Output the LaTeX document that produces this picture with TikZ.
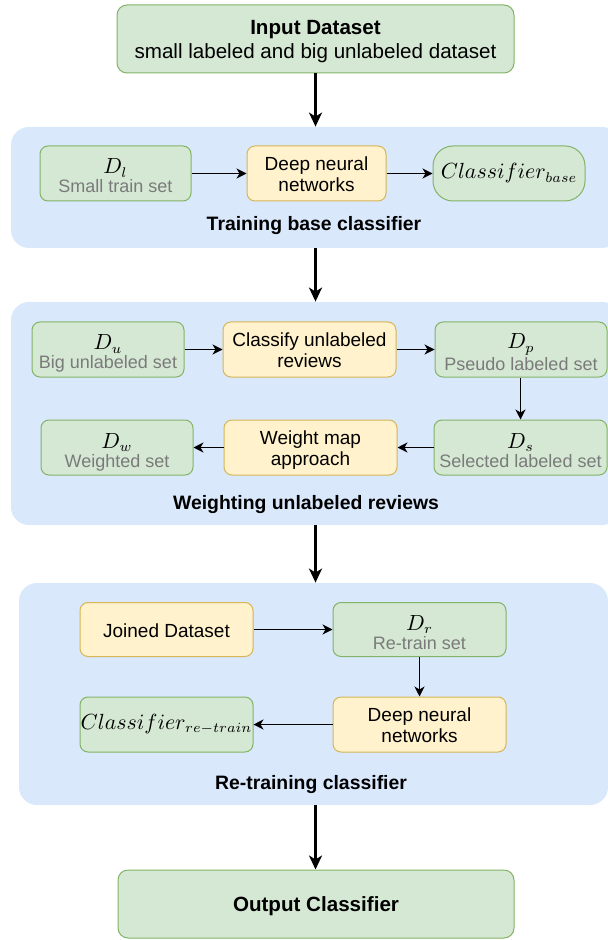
\documentclass[tikz,border=0pt]{standalone}
\usepackage{fontspec}
\setmainfont{Liberation Sans}
\usetikzlibrary{arrows.meta}
\definecolor{gfill}{HTML}{D5E8D4}
\definecolor{gline}{HTML}{82B366}
\definecolor{yfill}{HTML}{FFF2CC}
\definecolor{yline}{HTML}{D6B656}
\definecolor{pfill}{HTML}{DAE8FC}
\definecolor{subgray}{HTML}{7A7A7A}
\newcommand{\mth}[1]{{\fontsize{10.5}{11.5}\selectfont$#1$}}
\newcommand{\sub}[1]{{\color{subgray}#1}}
\newcommand{\ta}{\rule{0pt}{9.5pt}}
\newcommand{\tb}{\rule[-2pt]{0pt}{2pt}}
\newcommand{\tm}{\rule{0pt}{12pt}}
\tikzset{
  every node/.style={font=\fontsize{9.5}{10.5}\selectfont},
  gbox/.style={draw=gline, fill=gfill, rounded corners=4pt, line width=0.5pt, inner sep=0pt, align=center},
  dbox/.style={gbox, font=\fontsize{9}{9.5}\selectfont},
  ybox/.style={draw=yline, fill=yfill, rounded corners=4pt, line width=0.5pt, inner sep=0pt, align=center},
  endbox/.style={gbox, rounded corners=5pt, font=\fontsize{10.3}{12}\selectfont},
  panel/.style={fill=pfill, draw=none, rounded corners=9pt, inner sep=0pt},
  ptitle/.style={font=\bfseries\fontsize{9.7}{11.5}\selectfont},
  flowarrow/.style={-{Stealth[length=5pt,width=5pt,inset=1.5pt]}, line width=0.6pt},
  bigarrow/.style={-{Stealth[length=7pt,width=6.5pt,inset=2pt]}, line width=1.2pt},
  sz/.style 2 args={minimum width=#1*0.5pt, minimum height=#2*0.5pt},
}
\begin{document}
\begin{tikzpicture}[x=0.5pt,y=-0.5pt]
\useasboundingbox (0,0) rectangle (608,940);
\begin{scope}
\clip (0,0) rectangle (608,940);
\node[panel, sz={609}{121}] (p1) at (315.5,187.5) {};
\node[panel, sz={609}{223}] (p2) at (315.5,413.5) {};
\node[panel, sz={589}{222}] (p3) at (313.5,694) {};
\end{scope}

% top / bottom
\node[endbox, sz={397}{68}] (in) at (315.5,39) {\ta\textbf{Input Dataset}\\small labeled and big unlabeled dataset\tb};
\node[endbox, sz={396}{68}] (out) at (316,904) {\ta\textbf{Output Classifier}\tb};

% panel 1
\node[dbox, sz={151}{55}] (Dl) at (115.5,173.5) {\tm\mth{D_l}\\\sub{Small train set}\tb};
\node[ybox, sz={139}{55}] (dnn1) at (316.5,173.5) {\ta Deep neural\\networks\tb};
\node[gbox, sz={152}{55}, rounded corners=10pt] (cb) at (509,173.5) {\mth{Classifier_{base}}};
\node[ptitle] (t1) at (314,226) {Training base classifier};

% panel 2
\node[dbox, sz={152}{55}] (Du) at (108,349.5) {\tm\mth{D_u}\\\sub{Big unlabeled set}\tb};
\node[ybox, sz={173}{55}] (cu) at (309.5,349.5) {\ta Classify unlabeled\\reviews\tb};
\node[dbox, sz={172}{55}] (Dp) at (521,349.5) {\tm\mth{D_p}\\\sub{Pseudo labeled set}\tb};
\node[dbox, sz={173}{55}] (Ds) at (520.5,447.5) {\tm\mth{D_s}\\\sub{Selected labeled set}\tb};
\node[ybox, sz={173}{55}] (wm) at (310.5,447.5) {\ta Weight map\\approach\tb};
\node[dbox, sz={152}{55}] (Dw) at (117,447.5) {\tm\mth{D_w}\\\sub{Weighted set}\tb};
\node[ptitle] (t2) at (306,505) {Weighting unlabeled reviews};

% panel 3
\node[ybox, sz={173}{54}] (jd) at (166.5,629.5) {\ta Joined Dataset\tb};
\node[dbox, sz={173}{54}] (Dr) at (419.5,629.5) {\tm\mth{D_r}\\\sub{Re-train set}\tb};
\node[ybox, sz={173}{55}] (dnn2) at (419.5,724.5) {\ta Deep neural\\networks\tb};
\node[gbox, sz={173}{55}] (cr) at (166.5,724.5) {\mth{Classifier_{re-train}}};
\node[ptitle] (t3) at (311,785) {Re-training classifier};

% inner arrows
\draw[flowarrow] (Dl) -- (dnn1);
\draw[flowarrow] (dnn1) -- (cb);
\draw[flowarrow] (Du) -- (cu);
\draw[flowarrow] (cu) -- (Dp);
\draw[flowarrow] (Dp.south -| Ds.north) -- (Ds.north);
\draw[flowarrow] (Ds) -- (wm);
\draw[flowarrow] (wm) -- (Dw);
\draw[flowarrow] (jd) -- (Dr);
\draw[flowarrow] (Dr) -- (dnn2);
\draw[flowarrow] (dnn2) -- (cr);

% big arrows
\draw[bigarrow] (in.south) -- (in.south |- p1.north);
\draw[bigarrow] (in.south |- p1.south) -- (in.south |- p2.north);
\draw[bigarrow] (in.south |- p2.south) -- (in.south |- p3.north);
\draw[bigarrow] (in.south |- p3.south) -- (out.north -| in.south);
\end{tikzpicture}
\end{document}
